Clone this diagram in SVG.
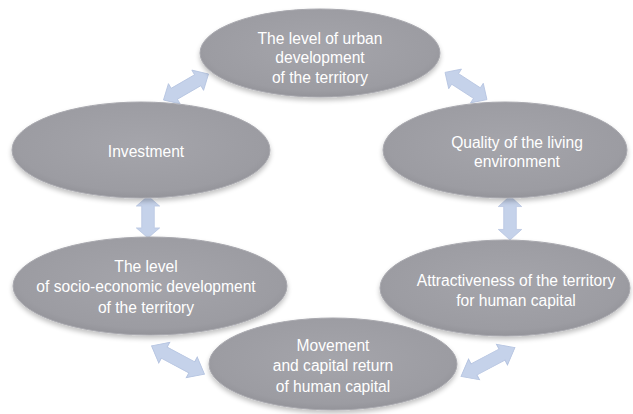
<svg xmlns="http://www.w3.org/2000/svg" width="633" height="414" viewBox="0 0 633 414">
<style>
.node ellipse{fill:url(#g);stroke:#a8a8ae;stroke-width:1;filter:url(#sh)}
.node text{font-family:"Liberation Sans",Arial,sans-serif;font-size:15.6px;fill:#ffffff;text-anchor:middle}
.arr{fill:#c5d2ea;stroke:#b4c3e0;stroke-width:0.8}
</style>
<defs>
<radialGradient id="g" cx="0.5" cy="0.45" r="0.6">
<stop offset="0" stop-color="#a5a5ab"/>
<stop offset="0.8" stop-color="#9c9ca2"/>
<stop offset="1" stop-color="#8e8e94"/>
</radialGradient>
<filter id="sh" x="-10%" y="-20%" width="120%" height="150%">
<feGaussianBlur in="SourceAlpha" stdDeviation="2.5"/>
<feOffset dx="0" dy="3" result="b"/>
<feComponentTransfer><feFuncA type="linear" slope="0.25"/></feComponentTransfer>
<feMerge><feMergeNode/><feMergeNode in="SourceGraphic"/></feMerge>
</filter>
<path id="da" d="M-25,0 L-13,-13 L-13,-7 L13,-7 L13,-13 L25,0 L13,13 L13,7 L-13,7 L-13,13 Z"/>
</defs>
<rect width="633" height="414" fill="#ffffff"/>
<g id="connectors">
<use href="#da" class="arr" transform="translate(186,87) rotate(-30) scale(1.04,0.9)"/>
<use href="#da" class="arr" transform="translate(466,86) rotate(33) scale(1.0,0.9)"/>
<use href="#da" class="arr" transform="translate(148,217) rotate(90) scale(0.84,0.9)"/>
<use href="#da" class="arr" transform="translate(510,218) rotate(90) scale(0.88,0.9)"/>
<use href="#da" class="arr" transform="translate(178,360) rotate(28) scale(1.2,0.9)"/>
<use href="#da" class="arr" transform="translate(488,362) rotate(-28) scale(1.22,0.9)"/>
</g>
<g id="n-urban" class="node">
<ellipse cx="320" cy="53" rx="120" ry="44"/>
<text x="320" y="44">The level of urban</text>
<text x="320" y="63">development</text>
<text x="320" y="83">of the territory</text>
</g>
<g id="n-investment" class="node">
<ellipse cx="141" cy="150" rx="129" ry="48"/>
<text x="146" y="157">Investment</text>
</g>
<g id="n-quality" class="node">
<ellipse cx="505" cy="150" rx="122" ry="48"/>
<text x="517" y="148">Quality of the living</text>
<text x="517" y="167">environment</text>
</g>
<g id="n-socio" class="node">
<ellipse cx="150" cy="286" rx="137" ry="49"/>
<text x="146" y="272">The level</text>
<text x="146" y="292">of socio-economic development</text>
<text x="146" y="313">of the territory</text>
</g>
<g id="n-attract" class="node">
<ellipse cx="505" cy="288" rx="125" ry="48"/>
<text x="516" y="286">Attractiveness of the territory</text>
<text x="516" y="306">for human capital</text>
</g>
<g id="n-movement" class="node">
<ellipse cx="333" cy="364" rx="124" ry="46"/>
<text x="333" y="351">Movement</text>
<text x="333" y="371">and capital return</text>
<text x="333" y="392">of human capital</text>
</g>
</svg>
